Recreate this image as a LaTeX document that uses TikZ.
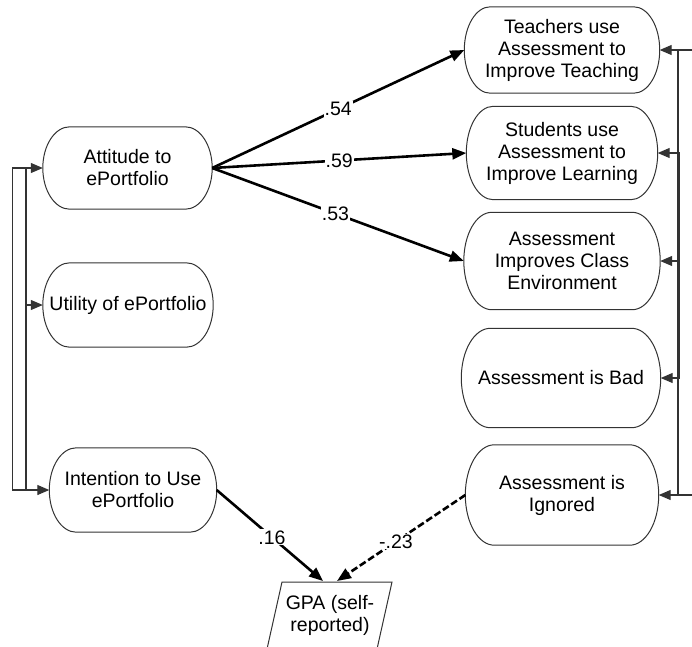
\documentclass[tikz,border=0pt]{standalone}
\usepackage{fontspec}
\setmainfont{Liberation Sans}
\usetikzlibrary{arrows.meta,calc}
\newcommand\stadshape[2]{%
  \draw[shapeline] let \p1=(#1.north west), \p2=(#1.south east), \n1={(\y1-\y2)/2} in
    (\x1+#2,\y1) -- (\x2-#2,\y1)
    arc[start angle=90,end angle=-90,x radius=#2,y radius=\n1]
    -- (\x1+#2,\y2)
    arc[start angle=270,end angle=90,x radius=#2,y radius=\n1] -- cycle;}
\begin{document}
\begin{tikzpicture}[x=1pt,y=-1pt,
  box/.style={draw=none,shape=rectangle,align=center,inner sep=0pt,font=\fontsize{19.5}{22}\selectfont},
  shapeline/.style={draw=black!80,line width=1pt},
  path/.style={line width=2.6pt,-{Triangle[length=14pt,width=11pt]}},
  fb/.style={line width=1.1pt,black!80},
  fbar/.style={fb,-{Triangle[length=12pt,width=10pt]}},
  fbar2/.style={fb,{Triangle[length=12pt,width=10pt]}-{Triangle[length=12pt,width=10pt]}},
  lbl/.style={fill=white,inner sep=1pt,font=\fontsize{19.5}{22}\selectfont}]
\useasboundingbox (0,0) rectangle (692,646);

\node[box,minimum width=169pt,minimum height=82pt] (att) at (127.5,168) {Attitude to\\ePortfolio};
\node[box,minimum width=170pt,minimum height=84pt] (util) at (128,305) {Utility of ePortfolio};
\node[box,minimum width=167pt,minimum height=84pt] (int) at (133,490) {Intention to Use\\ePortfolio};

\node[box,minimum width=195pt,minimum height=86pt] (teach) at (562,50) {Teachers use\\Assessment to\\Improve Teaching};
\node[box,minimum width=191pt,minimum height=93pt] (stud) at (562,153) {Students use\\Assessment to\\Improve Learning};
\node[box,minimum width=196pt,minimum height=97pt] (cls) at (562,261) {Assessment\\Improves Class\\Environment};
\node[box,minimum width=199pt,minimum height=99pt] (bad) at (561,378) {Assessment is Bad};
\node[box,minimum width=193pt,minimum height=100pt] (ign) at (562,495) {Assessment is\\Ignored};

\stadshape{att}{27pt}
\stadshape{util}{27pt}
\stadshape{int}{27pt}
\stadshape{teach}{26pt}
\stadshape{stud}{27pt}
\stadshape{cls}{28pt}
\stadshape{bad}{29pt}
\stadshape{ign}{29pt}

\node[align=center,inner sep=0pt,font=\fontsize{19.5}{22}\selectfont] (gpa) at (330,615) {GPA (self-\\reported)};
\draw[black!80,line width=1pt] (282,582) -- (392,582) -- (377,649) -- (267,649) -- cycle;
\coordinate (g1) at (323,581);
\coordinate (g2) at (337,581);

% structural paths
\draw[path] (att.east) -- node[lbl,pos=0.5] {.54} (teach.west);
\draw[path] (att.east) -- node[lbl,pos=0.5] {.59} (stud.west);
\draw[path] (att.east) -- node[lbl,pos=0.49] {.53} (cls.west);
\draw[path] (int.east) -- node[lbl,pos=0.52] {.16} (g1);
\draw[path,dash pattern=on 7pt off 3pt] (ign.west) -- node[lbl,pos=0.54] {-.23} (g2);

% left correlations
\coordinate (l1) at (26,168);
\coordinate (l2) at (26,490);
\draw[fbar2] (att.west) -- ++(-30,0) |- (int.west);
\draw[fb] (l1) -- (l2);
\draw[fbar] (l1 |- util.west) -- (util.west);

% right correlations
\coordinate (r1) at (678,50);
\coordinate (r2) at (678,495);
\draw[fbar2] (teach.east) -- ++(40,0) |- (ign.east);
\draw[fb] (r1) -- (r2);
\draw[fbar] (r1 |- cls.east) -- (cls.east);
\draw[fbar2] (stud.east) -- ++(22,0) |- (bad.east);
\end{tikzpicture}
\end{document}
